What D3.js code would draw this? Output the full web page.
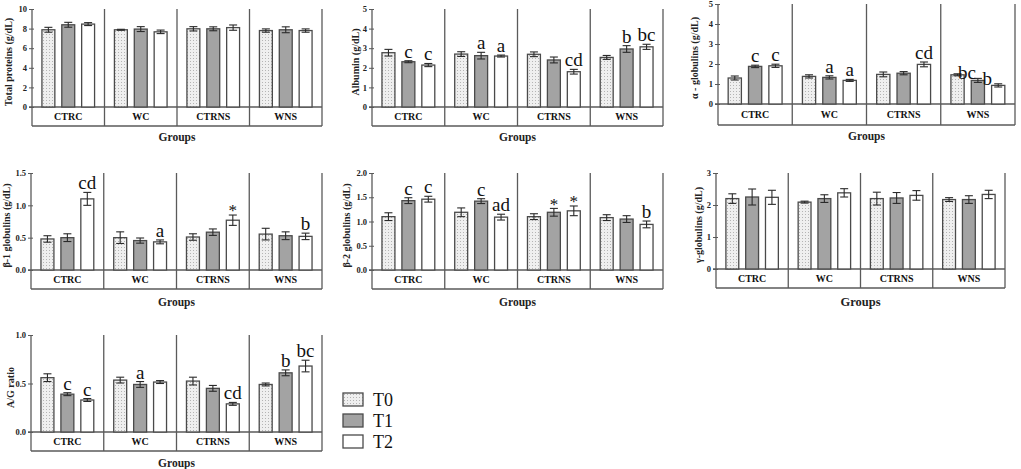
<!DOCTYPE html>
<html>
<head>
<meta charset="utf-8">
<script src="https://cdn.jsdelivr.net/npm/d3@7"></script>
<style>
  body { margin: 0; background: #fff; }
  text { font-family: "Liberation Serif", "Times New Roman", serif; }
</style>
</head>
<body>
<svg id="canvas"></svg>
<script>
const groups = ["CTRC", "WC", "CTRNS", "WNS"];
const series = ["T0", "T1", "T2"];

// mean and SE per group, order T0, T1, T2
const totalMean = [[7.88, 8.39, 8.46], [7.88, 7.95, 7.67], [7.98, 7.98, 8.10], [7.80, 7.88, 7.80]];
const totalErr  = [[0.25, 0.25, 0.15], [0.05, 0.25, 0.18], [0.22, 0.20, 0.27], [0.17, 0.30, 0.17]];
const totalLet  = [["", "", ""], ["", "", ""], ["", "", ""], ["", "", ""]];

const albMean = [[2.77, 2.31, 2.14], [2.70, 2.62, 2.60], [2.69, 2.40, 1.80], [2.53, 2.96, 3.07]];
const albErr  = [[0.17, 0.05, 0.08], [0.12, 0.17, 0.05], [0.12, 0.15, 0.12], [0.10, 0.17, 0.13]];
const albLet  = [["", "c", "c"], ["", "a", "a"], ["", "", "cd"], ["", "b", "bc"]];

const alphaMean = [[1.30, 1.88, 1.91], [1.38, 1.33, 1.18], [1.48, 1.54, 1.98], [1.46, 1.18, 0.93]];
const alphaErr  = [[0.10, 0.06, 0.08], [0.08, 0.08, 0.05], [0.12, 0.08, 0.12], [0.05, 0.10, 0.08]];
const alphaLet  = [["", "c", "c"], ["", "a", "a"], ["", "", "cd"], ["", "bc", "b"]];

const beta1Mean = [[0.48, 0.50, 1.10], [0.50, 0.455, 0.435], [0.51, 0.585, 0.77], [0.555, 0.53, 0.52]];
const beta1Err  = [[0.05, 0.06, 0.10], [0.09, 0.04, 0.03], [0.05, 0.05, 0.08], [0.09, 0.06, 0.05]];
const beta1Let  = [["", "", "cd"], ["", "", "a"], ["", "", "*"], ["", "", "b"]];

const beta2Mean = [[1.10, 1.43, 1.46], [1.19, 1.42, 1.09], [1.10, 1.19, 1.22], [1.08, 1.05, 0.94]];
const beta2Err  = [[0.08, 0.06, 0.06], [0.09, 0.05, 0.06], [0.06, 0.08, 0.10], [0.06, 0.07, 0.07]];
const beta2Let  = [["", "c", "c"], ["", "c", "ad"], ["", "*", "*"], ["", "", "b"]];

const gammaMean = [[2.20, 2.25, 2.24], [2.09, 2.20, 2.38], [2.20, 2.22, 2.30], [2.17, 2.17, 2.33]];
const gammaErr  = [[0.15, 0.25, 0.22], [0.03, 0.12, 0.13], [0.20, 0.17, 0.15], [0.06, 0.12, 0.13]];
const gammaLet  = [["", "", ""], ["", "", ""], ["", "", ""], ["", "", ""]];

const agMean = [[0.56, 0.39, 0.33], [0.535, 0.49, 0.515], [0.525, 0.45, 0.29], [0.49, 0.61, 0.68]];
const agErr  = [[0.04, 0.015, 0.015], [0.03, 0.03, 0.015], [0.04, 0.03, 0.015], [0.015, 0.03, 0.06]];
const agLet  = [["", "c", "c"], ["", "a", ""], ["", "", "cd"], ["", "b", "bc"]];

const width = 1021, height = 469;
const svg = d3.select("#canvas").attr("width", width).attr("height", height);

const defs = svg.append("defs");
const pat = defs.append("pattern").attr("id", "dots")
    .attr("width", 3).attr("height", 3).attr("patternUnits", "userSpaceOnUse");
pat.append("rect").attr("width", 3).attr("height", 3).attr("fill", "#efefef");
pat.append("rect").attr("x", 1).attr("y", 1).attr("width", 1).attr("height", 1).attr("fill", "#b4b4b4");

const fills = ["url(#dots)", "#a3a3a3", "#ffffff"];
const frameColor = "#5a5a5a";

const panels = [
    { label: "Total proteins (g/dL)", mean: totalMean, err: totalErr, lets: totalLet,
      max: 10, ticks: [0, 2, 4, 6, 8, 10], fmt: d3.format("d"),
      x0: 32, x1: 322, top: 9, zero: 107, bottom: 126, labelX: 8, groupsY: 141 },
    { label: "Albumin (g/dL)", mean: albMean, err: albErr, lets: albLet,
      max: 5, ticks: [0, 1, 2, 3, 4, 5], fmt: d3.format("d"),
      x0: 372, x1: 663, top: 9, zero: 107, bottom: 126, labelX: 355, groupsY: 141 },
    { label: "α - globulins (g/dL)", mean: alphaMean, err: alphaErr, lets: alphaLet,
      max: 5, ticks: [0, 1, 2, 3, 4, 5], fmt: d3.format("d"),
      x0: 718, x1: 1015, top: 4, zero: 104, bottom: 125, labelX: 694, groupsY: 140, shiftLetters: true },
    { label: "β-1 globulins (g/dL)", mean: beta1Mean, err: beta1Err, lets: beta1Let,
      max: 1.5, ticks: [0, 0.5, 1, 1.5], fmt: d3.format(".1f"),
      x0: 31, x1: 322, top: 173, zero: 270, bottom: 289, labelX: 6, groupsY: 306 },
    { label: "β-2 globulins (g/dL)", mean: beta2Mean, err: beta2Err, lets: beta2Let,
      max: 2, ticks: [0, 0.5, 1, 1.5, 2], fmt: d3.format(".1f"),
      x0: 372, x1: 663, top: 173, zero: 270, bottom: 289, labelX: 346, groupsY: 306 },
    { label: "γ-globulins (g/dL)", mean: gammaMean, err: gammaErr, lets: gammaLet,
      max: 3, ticks: [0, 1, 2, 3], fmt: d3.format("d"),
      x0: 716, x1: 1005, top: 173, zero: 269, bottom: 288, labelX: 698, groupsY: 306, bigGroups: true },
    { label: "A/G ratio", mean: agMean, err: agErr, lets: agLet,
      max: 1, ticks: [0, 0.5, 1], fmt: d3.format(".1f"),
      x0: 31, x1: 322, top: 335, zero: 432, bottom: 451, labelX: 10, groupsY: 467 }
];

panels.forEach(p => {
    const g = svg.append("g");

    const x = d3.scaleBand().domain(groups).range([p.x0, p.x1]);
    const xs = d3.scaleBand().domain(series).range([0, x.bandwidth()])
        .paddingInner(0.35).paddingOuter(0.5);
    const y = d3.scaleLinear().domain([0, p.max]).range([p.zero, p.top]);

    // y axis
    const ax = g.append("g")
        .attr("transform", `translate(${p.x0},0)`)
        .call(d3.axisLeft(y).tickValues(p.ticks).tickFormat(p.fmt).tickSize(3).tickSizeOuter(0));
    ax.select(".domain").remove();
    ax.selectAll("line").attr("stroke", frameColor).attr("x2", -3).attr("x1", 2);
    ax.selectAll("text")
        .attr("x", -5)
        .style("font-family", "Liberation Serif")
        .style("font-weight", "bold")
        .style("font-size", "8.5px")
        .attr("fill", "#222");

    // frame: left, right, bottom, dividers, zero line
    g.append("line").attr("x1", p.x0).attr("x2", p.x0).attr("y1", p.top).attr("y2", p.bottom)
        .attr("stroke", frameColor).attr("stroke-width", 1.3);
    g.append("line").attr("x1", p.x1).attr("x2", p.x1).attr("y1", p.top).attr("y2", p.bottom)
        .attr("stroke", frameColor).attr("stroke-width", 1.3);
    g.append("line").attr("x1", p.x0).attr("x2", p.x1).attr("y1", p.bottom).attr("y2", p.bottom)
        .attr("stroke", frameColor).attr("stroke-width", 1.3);
    g.append("line").attr("x1", p.x0 - 3).attr("x2", p.x1).attr("y1", y(0)).attr("y2", y(0))
        .attr("stroke", frameColor).attr("stroke-width", 1.3);
    g.selectAll(".div").data(groups.slice(1)).enter().append("line")
        .attr("x1", d => x(d)).attr("x2", d => x(d))
        .attr("y1", p.top).attr("y2", p.bottom)
        .attr("stroke", frameColor).attr("stroke-width", 1.3);

    // group names in the band under zero
    g.selectAll(".gname").data(groups).enter().append("text")
        .attr("x", d => x(d) + x.bandwidth() / 2)
        .attr("y", (p.zero + p.bottom) / 2 + 3.5)
        .attr("text-anchor", "middle")
        .style("font-weight", "bold")
        .style("font-size", "10px")
        .attr("fill", "#111")
        .text(d => d);

    const cells = [];
    groups.forEach((gr, i) => series.forEach((s, j) => {
        cells.push({ gr, s, j, v: p.mean[i][j], e: p.err[i][j], l: p.lets[i][j] });
    }));

    const bx = d => x(d.gr) + xs(d.s);

    g.selectAll(".bar").data(cells).enter().append("rect")
        .attr("x", bx)
        .attr("y", d => y(d.v))
        .attr("width", xs.bandwidth())
        .attr("height", d => y(0) - y(d.v))
        .attr("fill", d => fills[d.j])
        .attr("stroke", "#4a4a4a")
        .attr("stroke-width", 1.3);

    // error bars
    const eb = g.selectAll(".err").data(cells).enter().append("g")
        .attr("stroke", "#2a2a2a").attr("stroke-width", 1.1);
    const cx = d => bx(d) + xs.bandwidth() / 2;
    eb.append("line").attr("x1", cx).attr("x2", cx)
        .attr("y1", d => y(d.v - d.e)).attr("y2", d => y(d.v + d.e));
    eb.append("line").attr("x1", d => cx(d) - 4).attr("x2", d => cx(d) + 4)
        .attr("y1", d => y(d.v + d.e)).attr("y2", d => y(d.v + d.e));
    eb.append("line").attr("x1", d => cx(d) - 4).attr("x2", d => cx(d) + 4)
        .attr("y1", d => y(d.v - d.e)).attr("y2", d => y(d.v - d.e));

    // significance letters (alpha WNS letters sit left of their bars, as in the source)
    g.selectAll(".let").data(cells.filter(d => d.l)).enter().append("text")
        .attr("x", d => cx(d) - (p.shiftLetters && d.gr === "WNS" ? 11 : 0))
        .attr("y", d => p.shiftLetters && d.gr === "WNS" ? y(d.v + d.e) + 1 : y(d.v + d.e) - 3)
        .attr("text-anchor", "middle")
        .style("font-size", d => d.l === "*" ? "17px" : "19px")
        .attr("dy", d => d.l === "*" ? "0.25em" : 0)
        .attr("fill", "#111")
        .text(d => d.l);

    // axis titles
    svg.append("text")
        .attr("transform", `translate(${p.labelX},${(p.top + p.zero) / 2 + 4}) rotate(-90)`)
        .attr("text-anchor", "middle")
        .attr("dy", "0.35em")
        .style("font-weight", "bold")
        .style("font-size", "10px")
        .attr("fill", "#222")
        .text(p.label);

    svg.append("text")
        .attr("x", (p.x0 + p.x1) / 2)
        .attr("y", p.groupsY)
        .attr("text-anchor", "middle")
        .style("font-weight", "bold")
        .style("font-size", p.bigGroups ? "12.5px" : "11.5px")
        .attr("fill", "#222")
        .text("Groups");
});

// legend
const legend = svg.append("g").attr("transform", "translate(343,393)");
series.forEach((s, i) => {
    legend.append("rect")
        .attr("x", 0).attr("y", i * 21)
        .attr("width", 20).attr("height", 13)
        .attr("fill", fills[i])
        .attr("stroke", "#4a4a4a").attr("stroke-width", 1.3);
    legend.append("text")
        .attr("x", 30).attr("y", i * 21 + 13)
        .style("font-size", "18px")
        .attr("fill", "#111")
        .text(s);
});
</script>
</body>
</html>
